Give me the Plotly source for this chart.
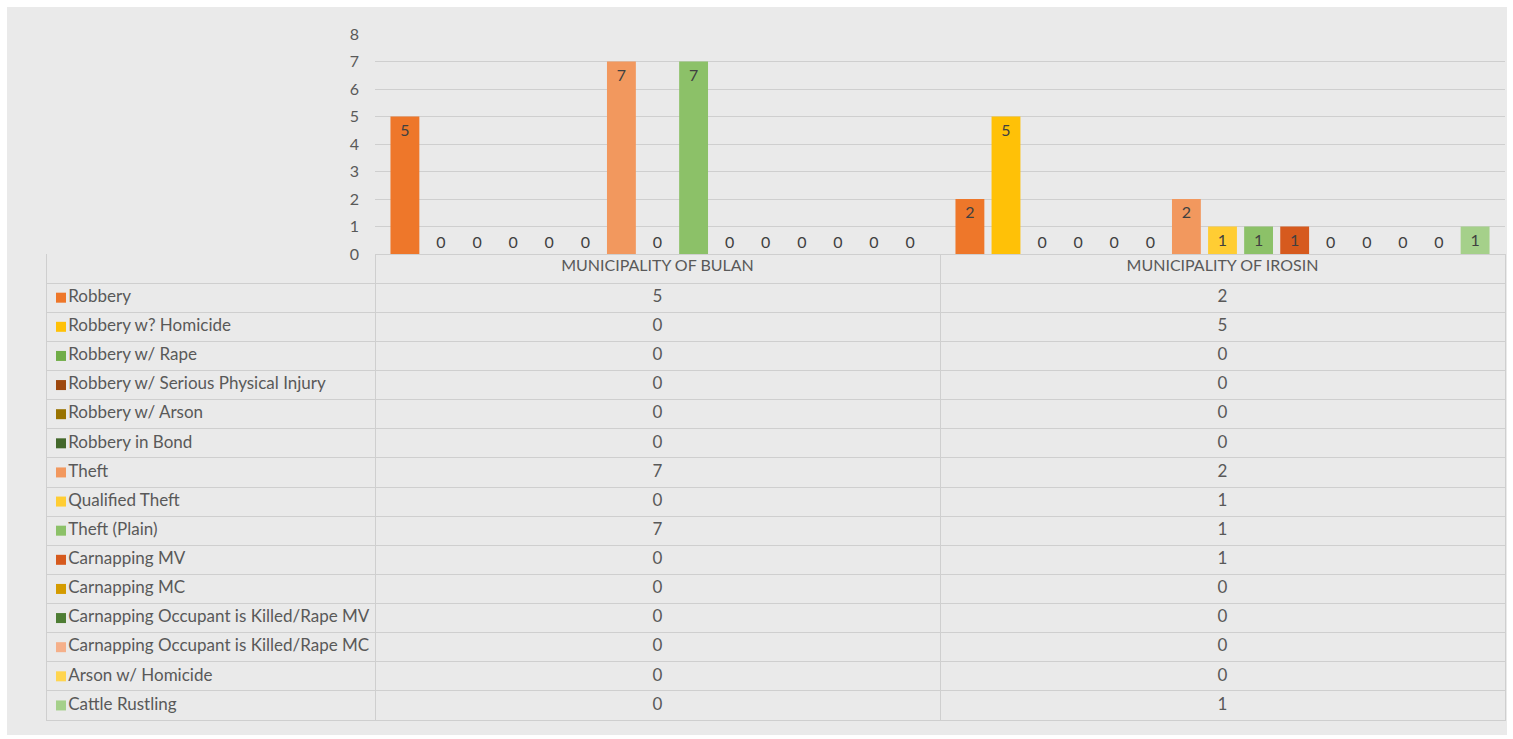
import plotly.graph_objects as go

# ---------------- data ----------------
municipalities = ["MUNICIPALITY OF BULAN", "MUNICIPALITY OF IROSIN"]
crimes = [
    "Robbery",
    "Robbery w? Homicide",
    "Robbery w/ Rape",
    "Robbery w/ Serious Physical Injury",
    "Robbery w/ Arson",
    "Robbery in Bond",
    "Theft",
    "Qualified Theft",
    "Theft (Plain)",
    "Carnapping MV",
    "Carnapping MC",
    "Carnapping Occupant is Killed/Rape MV",
    "Carnapping Occupant is Killed/Rape MC",
    "Arson w/ Homicide",
    "Cattle Rustling",
]
bulan = [5, 0, 0, 0, 0, 0, 7, 0, 7, 0, 0, 0, 0, 0, 0]
irosin = [2, 5, 0, 0, 0, 0, 2, 1, 1, 1, 0, 0, 0, 0, 1]
y_tick_values = [0, 1, 2, 3, 4, 5, 6, 7, 8]

colors = [
    "#EE772A", "#FFC107", "#70AD47",
    "#9E480E", "#997300", "#43682B",
    "#F2985E", "#FFCD33", "#8CC168",
    "#D65A1E", "#D49B00", "#4E7D34",
    "#F5B08A", "#FFD54F", "#A5D08A",
]

# ---------------- layout helpers ----------------
W, H = 1513, 739


def fx(p):
    return p / W


def fy(p):
    return 1 - p / H


GRID = "#CFCFCF"
TXT = "#595959"
FONT = "Lato"
LW = 328 / 565  # width of label column relative to a data column

fig = go.Figure()

# bars
for i, crime in enumerate(crimes):
    vals = [bulan[i], irosin[i]]
    fig.add_trace(go.Bar(
        x=municipalities,
        y=vals,
        name=crime,
        marker=dict(color=colors[i], line=dict(width=0)),
        text=[str(v) for v in vals],
        textposition=["inside" if v > 0 else "outside" for v in vals],
        insidetextanchor="end",
        textangle=0,
        insidetextfont=dict(family=FONT, size=16, color="#404040"),
        outsidetextfont=dict(family=FONT, size=16, color="#404040"),
        cliponaxis=False,
        xaxis="x",
        yaxis="y",
        hoverinfo="skip",
    ))

# data table: row labels with legend keys
rows_y = [i + 0.5 for i in range(len(crimes))]
fig.add_trace(go.Scatter(
    x=[-LW + 14 / 565] * len(crimes),
    y=rows_y,
    mode="markers+text",
    marker=dict(symbol="square", size=10, color=colors, line=dict(width=0)),
    text=crimes,
    textposition="middle right",
    textfont=dict(family=FONT, size=17, color=TXT),
    xaxis="x2",
    yaxis="y2",
    hoverinfo="skip",
    showlegend=False,
))
# data table: values
for col, vals in enumerate([bulan, irosin]):
    fig.add_trace(go.Scatter(
        x=[col + 0.5] * len(vals),
        y=rows_y,
        mode="text",
        text=[str(v) for v in vals],
        textposition="middle center",
        textfont=dict(family=FONT, size=17, color=TXT),
        xaxis="x2",
        yaxis="y2",
        hoverinfo="skip",
        showlegend=False,
    ))

fig.update_layout(
    width=W,
    height=H,
    margin=dict(l=0, r=0, t=0, b=0, autoexpand=False),
    paper_bgcolor="white",
    plot_bgcolor="rgba(0,0,0,0)",
    barmode="group",
    bargap=0.042,
    bargroupgap=0.2,
    showlegend=False,
    uniformtext=dict(mode="show", minsize=16),
    font=dict(family=FONT, size=16, color=TXT),
    xaxis=dict(
        domain=[fx(375), fx(1505)],
        anchor="y",
        type="category",
        automargin=False,
        showgrid=False,
        showline=False,
        zeroline=False,
        ticks="",
        tickfont=dict(family=FONT, size=16, color=TXT),
    ),
    yaxis=dict(
        domain=[fy(254), fy(34)],
        anchor="x",
        range=[0, 8],
        tickvals=y_tick_values,
        automargin=False,
        showgrid=True,
        gridcolor=GRID,
        gridwidth=1,
        zeroline=True,
        zerolinecolor=GRID,
        zerolinewidth=1,
        showline=False,
        ticks="",
        ticklabelstandoff=15,
        tickfont=dict(family=FONT, size=16, color=TXT),
    ),
    xaxis2=dict(
        domain=[fx(47), fx(1505)],
        anchor="y2",
        range=[-LW, 2],
        tickvals=[0, 1],
        automargin=False,
        showgrid=True,
        gridcolor=GRID,
        showticklabels=False,
        ticks="",
        zeroline=False,
        showline=True,
        linecolor=GRID,
        mirror=False,
    ),
    yaxis2=dict(
        domain=[fy(720), fy(254)],
        anchor="x2",
        range=[15, -1],
        tickvals=list(range(0, 15)),
        automargin=False,
        showgrid=True,
        gridcolor=GRID,
        showticklabels=False,
        ticks="",
        zeroline=False,
        showline=True,
        linecolor=GRID,
        mirror=True,
    ),
    shapes=[dict(
        type="rect", xref="paper", yref="paper",
        x0=fx(7), x1=fx(1507), y0=fy(735), y1=fy(7),
        fillcolor="#EAEAEA", line=dict(width=0), layer="below",
    )],
)

fig.write_html("out.html")
